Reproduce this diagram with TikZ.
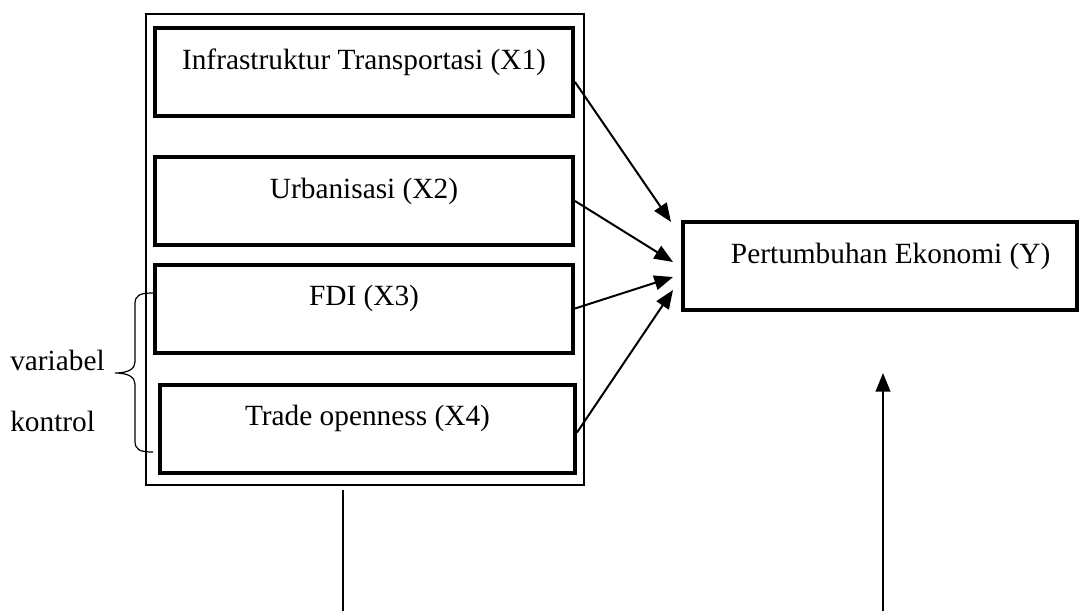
\documentclass[tikz,border=0pt]{standalone}
\usepackage{fontspec}
\setmainfont{Liberation Serif}
\usetikzlibrary{arrows.meta, calc}

\begin{document}
\begin{tikzpicture}[x=0.75pt, y=-0.75pt, font=\fontsize{22}{26}\selectfont,
    var/.style={draw, line width=3pt, minimum height=66pt, inner sep=0pt},
    lbl/.style={yshift=7.5pt, inner sep=0pt},
    arr/.style={line width=1.5pt, -{Triangle[length=14pt, width=11pt]}}]
            \useasboundingbox (0,0) rectangle (1088,611);
            \node[draw, line width=0.9pt, minimum width=328.5pt, minimum height=353.25pt] (grp) at (365,249.5) {};
            \node[var, minimum width=313.5pt, label={[lbl]center:Infrastruktur Transportasi (X1)}] (x1) at (364,72) {};
            \node[var, minimum width=313.5pt, label={[lbl]center:Urbanisasi (X2)}] (x2) at (364,201) {};
            \node[var, minimum width=313.5pt, label={[lbl]center:FDI (X3)}] (x3) at (364,308.5) {};
            \node[var, minimum width=311.25pt, label={[lbl]center:Trade openness (X4)}] (x4) at (367.5,428.5) {};
            \node[var, minimum width=295.5pt, label={[lbl, xshift=8pt]center:Pertumbuhan Ekonomi (Y)}] (y) at (880,266) {};
            \node[anchor=west, inner sep=0pt] (v1) at (10,360) {variabel};
            \node[anchor=west, inner sep=0pt] (v2) at (10,421) {kontrol};
            \coordinate (t1) at ($(y.west)+(-10,-44)$);
            \coordinate (t2) at ($(y.west)+(-8,-4)$);
            \coordinate (t3) at ($(y.west)+(-8,11)$);
            \coordinate (t4) at ($(y.west)+(-8,24)$);
            \draw[arr] ($(x1.east)+(0,10)$) -- (t1);
            \draw[arr] (x2.east) -- (t2);
            \draw[arr] (x3.east) -- (t3);
            \draw[arr] ($(x4.east)+(0,4)$) -- (t4);
            \coordinate (l0) at (343,490);
            \coordinate (l1) at (343,611);
            \coordinate (r0) at (883,611);
            \coordinate (r1) at (883,373);
            \draw[line width=1.2pt] (l0) -- (l1);
            \draw[arr] (r0) -- (r1);
            \coordinate (b0) at (153,293);
            \coordinate (b1) at (115,373);
            \coordinate (b2) at (153,452);
            \draw[line width=0.9pt] (b0) .. controls (140,293) and (135,295) .. (135,304) -- (135,362)
                .. controls (135,369) and (128,373) .. (b1)
                .. controls (128,373) and (135,377) .. (135,384) -- (135,441)
                .. controls (135,450) and (140,452) .. (b2);
        \end{tikzpicture}
\end{document}
